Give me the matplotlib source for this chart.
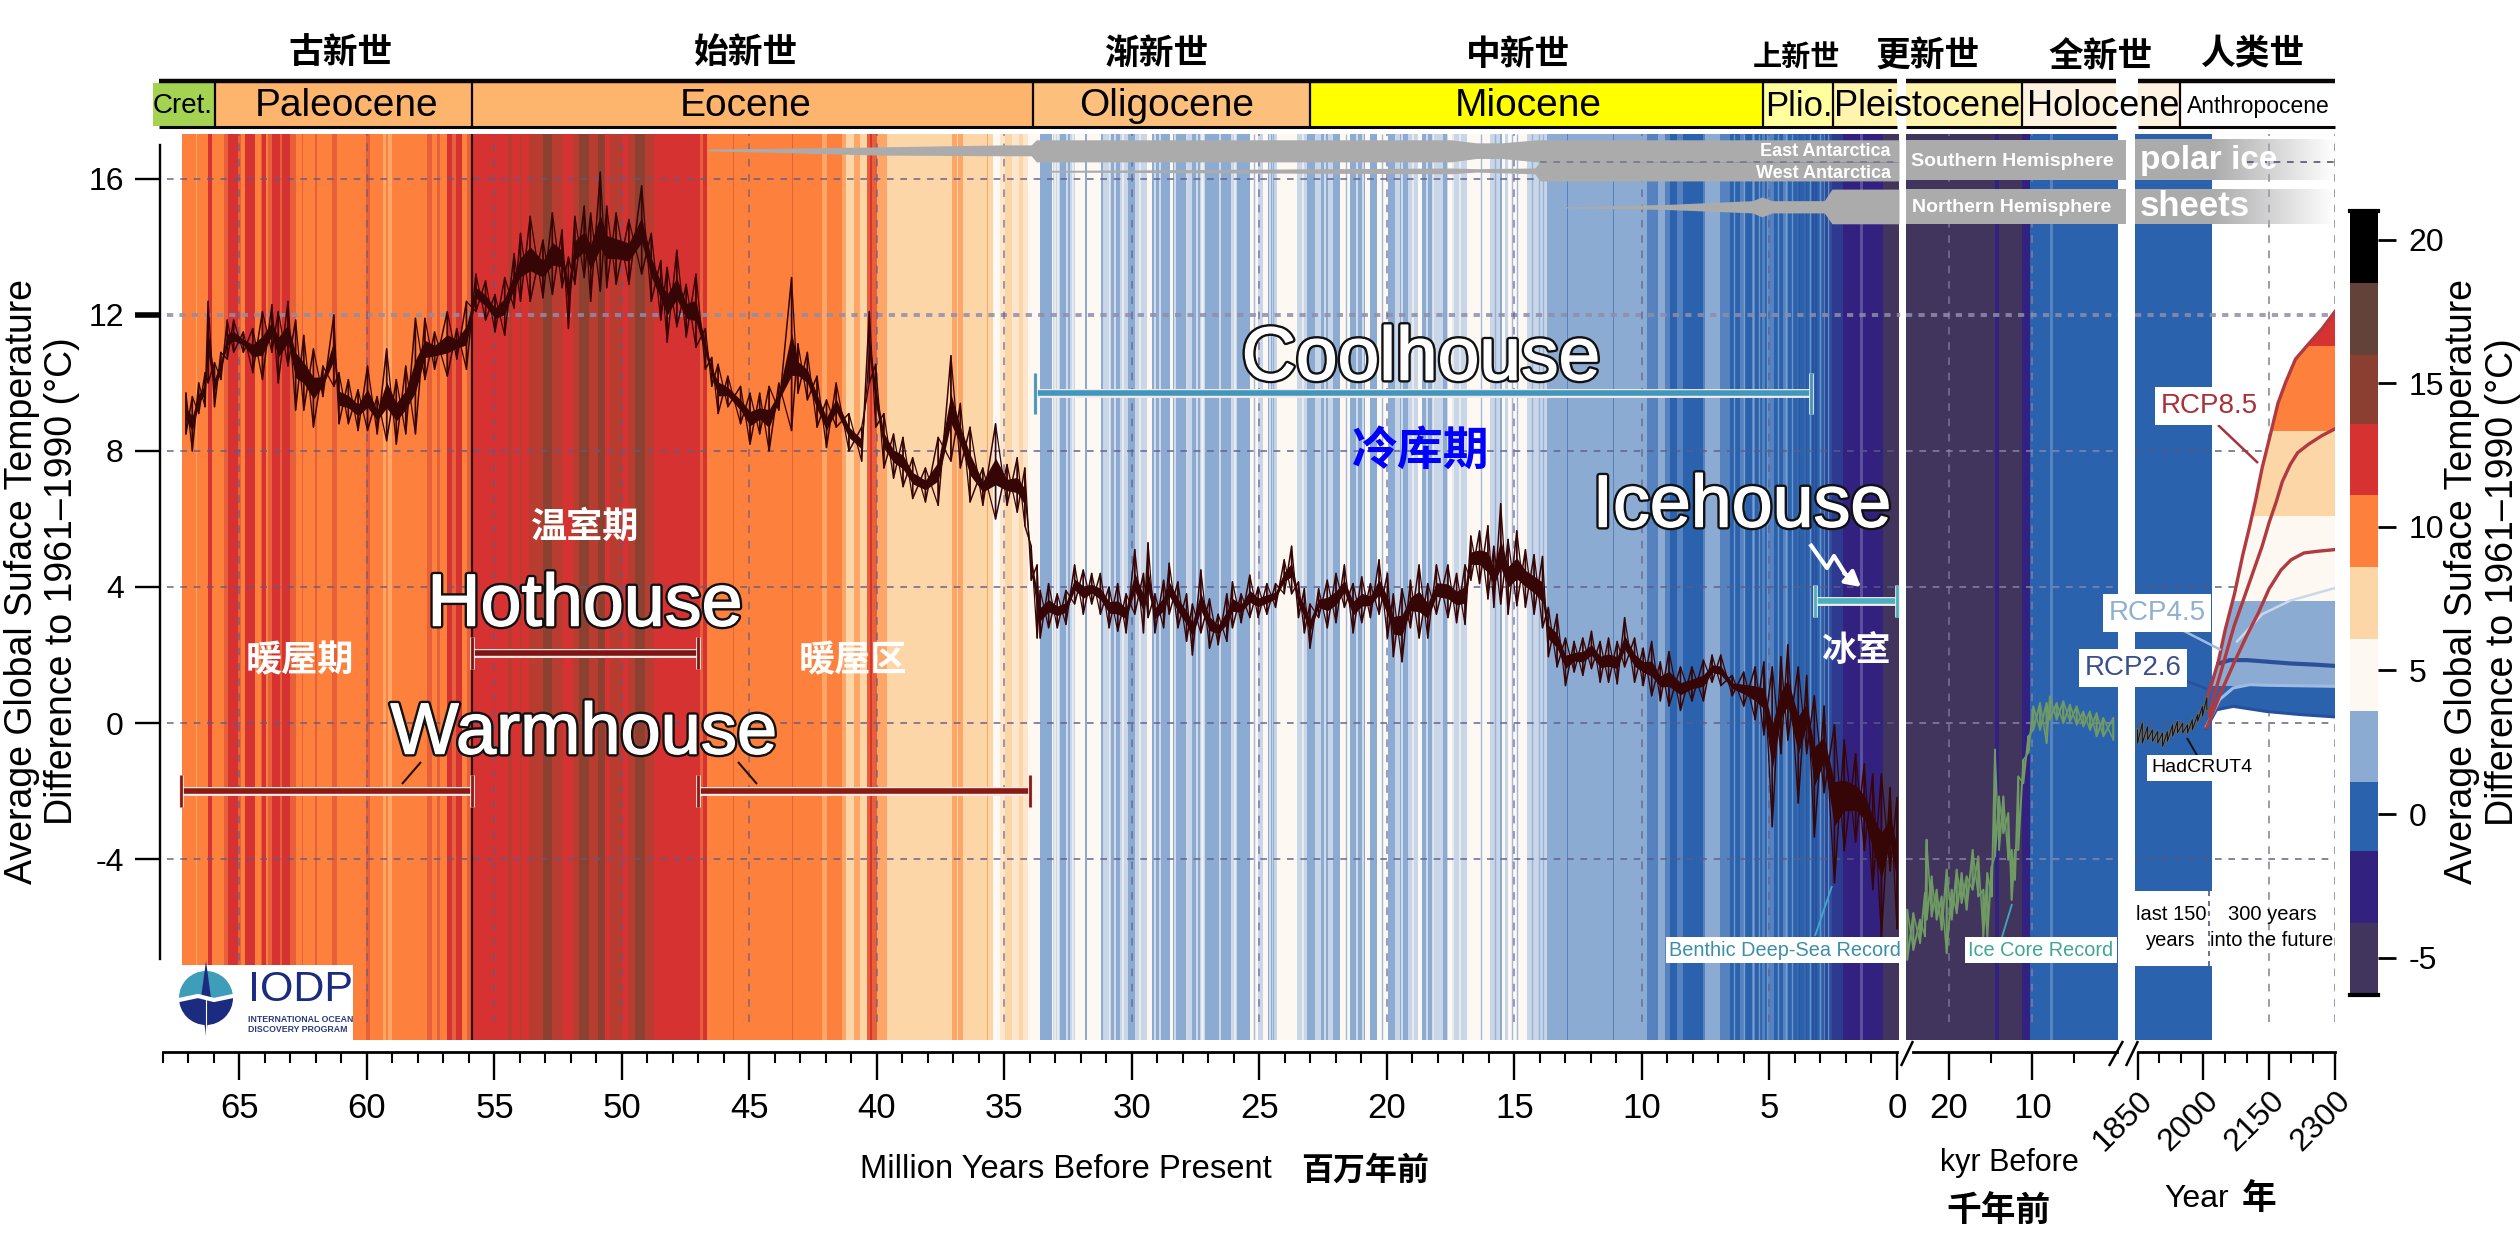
import numpy as np
import matplotlib
matplotlib.use('Agg')
import matplotlib.pyplot as plt
from matplotlib.colors import ListedColormap, BoundaryNorm
from matplotlib.cm import ScalarMappable
from matplotlib.patches import Rectangle, Wedge, Polygon
import matplotlib.patheffects as pe

plt.rcParams['font.family'] = ['Liberation Sans', 'Noto Sans CJK SC', 'DejaVu Sans']
plt.rcParams['axes.unicode_minus'] = False
CJK = ['Noto Sans CJK SC', 'DejaVu Sans']

# ---------- colour levels ----------
levels = [-6.3, -3.8, -1.3, 1.1, 3.6, 6.1, 8.6, 11.1, 13.6, 16.0, 18.5, 21.0]
level_colors = ['#41355E', '#33217F', '#2A62AE', '#8BABD3', '#FDF8F2', '#FDD6A8',
                '#FD803C', '#D73232', '#8B3F30', '#63423A', '#000000']
cbar_ticks = [-5, 0, 5, 10, 15, 20]

# ---------- climate stripes (left edge in Myr, tone code) ----------
tones = {'K': '#41355E', 'Z': '#5A50A0', 'D': '#33217F', 'Y': '#2E3A90', 'V': '#2F4C9E',
         'B': '#2A62AE', 'M': '#5683C0', 'L': '#8BABD3', 'P': '#C8D6E8', 'W': '#FDF8F2',
         'E': '#FDE6CC', 'S': '#FDD6A8', 'N': '#FDA668', 'O': '#FD803C', 'T': '#E8603A',
         'R': '#D73232', 'Q': '#B93C30', 'H': '#8B4030'}
stripe_ma_a = [67.24, 66.72, 66.67, 66.25, 66.07, 65.6, 65.44, 65.05, 64.94, 64.78, 64.39, 64.16, 64.1, 63.97,
               63.87, 63.71, 63.41, 63.32, 63.02, 62.8, 62.56, 62.5, 62.04, 61.97, 61.36, 61.19, 60.05, 59.88,
               59.36, 59.27, 59.16, 59.0, 57.66, 57.44, 57.27, 57.14, 56.88, 56.65, 56.52, 56.26, 56.09, 55.87]
stripe_code_a = "ONOROTRTOROTROTRTRTOTOTOTOTONONOTOTORTROTR"
stripe_ma_b = [54.46, 54.33, 54.0, 53.94, 53.65, 53.09, 52.76, 52.3, 51.91, 51.69, 51.3, 50.93, 50.67, 50.47,
               50.01, 49.75, 49.49, 49.1, 48.73]
stripe_code_b = "QRQRQHQRQHQHRQRQHQR"
stripe_ma_c = [46.94, 46.81, 46.65, 45.66, 45.6, 43.34, 43.28, 42.17, 41.97, 41.38, 41.21, 40.92, 40.66, 40.4,
               40.27, 40.19, 40.01, 39.62, 37.07, 36.87, 36.81, 36.64, 35.7, 35.63, 35.46, 35.17, 34.98, 34.72,
               34.45, 34.26, 34.06]
stripe_code_c = "TROTOTONONSNSTRTNSNSNSNSWESESEW"
stripe_ma_d = [33.6, 33.15, 33.08, 32.82, 32.43, 32.23, 31.84, 31.77, 31.23, 31.12, 30.86, 30.47, 30.14, 29.88,
               29.42, 29.23, 28.51, 28.38, 27.79, 27.66, 27.33, 27.13, 26.02, 25.89, 25.37, 25.04, 24.85, 24.65,
               24.52, 24.32, 23.54, 23.15, 22.82, 22.6, 22.3, 22.1, 21.84, 21.45, 20.86, 20.66, 20.38, 19.94,
               19.68, 19.49, 19.16, 18.77, 18.64, 18.18, 17.79, 17.59, 17.46, 16.87, 15.96, 15.57, 15.5, 15.37,
               15.24, 14.52, 13.74]
stripe_code_d = "LWPLPWLWLPLPLPWLWLPLPLPLWPWLPWPLPLPLWLWLWLPLPWLPLWPWPLWPWPL"
stripe_ma_e = [12.95, 12.91, 11.12, 11.08, 9.81, 9.36, 9.1, 8.9, 8.64, 8.38, 7.59, 7.53, 6.94, 6.55, 6.16, 5.96,
               5.7, 5.57, 5.31, 5.18, 5.05, 4.82, 4.46, 4.26, 3.21, 3.15, 2.95, 2.82, 2.56, 2.1, 1.45, 1.32, 0.54]
stripe_code_e = "MLMLMLMBMBMLMBMBMBMBMBMBVBMVYDZDK"
stripe_ma_end = -0.08
thin_white_ma = [33.02, 32.89, 32.56, 32.3, 30.86, 30.66, 30.34, 29.68, 29.09, 28.9, 28.31, 27.85, 27.46, 27.2,
                 27.26, 26.55, 26.09, 25.96, 24.78, 24.58, 23.28, 22.43, 21.71, 21.19, 20.93, 19.42, 18.96, 18.44,
                 18.18, 17.59, 17.4, 17.13]
thin_blue_ma = [25.2, 24.45, 21.6, 20.55, 20.2, 16.3, 15.75, 15.1, 14.9, 14.3, 14.05, 13.9]
thin_mid_ma = [6.4, 6.0, 5.65, 5.4, 5.1, 4.65, 4.35, 4.1, 3.9, 3.6, 3.4, 3.0, 2.7]
thin_dark_ma = [3.85, 3.55, 3.3, 2.9, 2.75]
stripe_ka = [25.15, 14.5, 13.97, 11.3, 10.3, 7.9, 7.6]
stripe_code_ka = "KDKDBMB"
stripe_ka_end = -0.24
stripe_yr = [1844.3]
stripe_code_yr = "B"
stripe_yr_end = 2020.0

# ---------- benthic record, read as upper and lower envelope ----------
temp_ma = [67.1, 66.85, 66.6, 66.35, 66.23, 65.98, 65.73, 65.48, 65.23, 64.85, 64.48, 64.1, 63.73, 63.48, 63.1, 62.8,
           62.48, 62.1, 61.73, 61.3, 61.1, 60.73, 60.35, 59.98, 59.6, 59.23, 58.85, 58.48, 58.1, 57.73, 57.35, 56.85,
           56.48, 56.1, 55.73, 55.35, 54.98, 54.6, 54.23, 53.98, 53.6, 53.1, 52.73, 52.35, 52.1, 51.85, 51.48, 51.23,
           50.85, 50.6, 50.23, 49.73, 49.23, 48.85, 48.48, 48.23, 47.85, 47.48, 47.1, 46.73, 46.48, 46.23, 45.85,
           45.35, 44.98, 44.6, 44.23, 43.85, 43.35, 43.1, 42.73, 42.35, 41.98, 41.6, 41.1, 40.6, 40.3, 40.05, 39.73,
           39.35, 38.98, 38.6, 38.1, 37.6, 37.1, 36.73, 36.35, 35.85, 35.35, 34.9, 34.5, 34.2, 33.95, 33.72,
           33.6, 33.27, 32.93, 32.59, 32.25, 31.91, 31.58, 31.24, 30.9, 30.56, 30.23, 29.89, 29.55, 29.37, 29.1, 28.76,
           28.54, 28.2, 27.86, 27.63, 27.3, 26.96, 26.62, 26.28, 26.06, 25.72, 25.38, 25.05, 24.71, 24.37, 24.03,
           23.74, 23.47, 23.24, 23.02, 22.68, 22.34, 22.0, 21.67, 21.33, 20.99, 20.65, 20.31, 19.98, 19.75, 19.41,
           19.08, 18.74, 18.4, 18.06, 17.61, 17.27, 16.94, 16.71, 16.37, 16.04, 15.81, 15.54, 15.25, 14.91, 14.57,
           14.23, 13.9, 13.67, 13.33, 13.0, 12.66, 12.32, 11.98, 11.64, 11.31, 10.97, 10.68, 10.29, 9.95, 9.62, 9.28,
           8.94, 8.49, 8.04, 7.59, 7.25, 6.91, 6.46, 6.01, 5.56, 5.22, 4.89, 4.55, 4.28, 3.87, 3.54, 3.24, 2.86, 2.45,
           2.07, 1.62, 1.28, 0.95, 0.61, 0.27, 0.0]
temp_hi = [9.7, 9.6, 10.0, 10.3, 12.4, 10.6, 10.9, 11.85, 11.85, 11.5, 11.6, 12.1, 12.3, 12.1, 12.4, 11.85,
           11.4, 11.0, 10.5, 12.0, 10.3, 10.1, 9.8, 10.5, 9.6, 11.0, 10.1, 10.5, 11.9, 11.9, 11.5, 12.1,
           11.6, 12.4, 13.2, 13.0, 12.6, 13.1, 13.8, 14.4, 14.9, 14.2, 15.0, 14.5, 13.7, 14.9, 15.2, 15.0,
           16.2, 15.2, 15.0, 14.8, 15.8, 14.4, 13.6, 13.4, 13.9, 12.9, 13.2, 11.6, 10.75, 10.55, 10.2,
           9.9, 9.7, 9.7, 9.9, 10.0, 13.1, 11.15, 10.9, 10.2, 9.5, 10.0, 9.1, 8.7, 12.1, 10.55, 9.1,
           8.5, 8.4, 7.8, 7.5, 8.4, 10.8, 9.4, 8.7, 7.5, 8.8, 7.6, 7.8, 7.5, 5.2, 4.65,
           3.9, 4.1, 3.8, 3.9, 4.65, 4.5, 4.4, 4.4, 4.0, 4.1, 3.8, 5.1, 4.4, 5.3, 3.8, 4.2,
           4.7, 4.15, 3.8, 3.5, 4.5, 3.65, 3.2, 3.8, 4.15, 3.8, 4.35, 4.0, 4.1, 4.1, 4.8,
           5.2, 4.15, 3.95, 3.5, 3.95, 4.2, 4.4, 4.65, 4.1, 4.3, 4.1, 4.8, 4.4, 3.8, 3.95,
           4.2, 4.65, 4.1, 4.65, 4.65, 4.4, 4.65, 5.5, 5.65, 5.8, 5.2, 6.45, 5.4, 5.65, 5.1,
           4.95, 4.9, 3.4, 3.2, 2.5, 2.4, 2.5, 2.7, 2.4, 2.5, 2.4, 3.1, 2.5, 2.2, 2.4, 1.8,
           2.1, 1.65, 1.65, 1.85, 2.0, 2.0, 1.4, 1.5, 1.65, 1.8, 1.65, 1.95, 2.3, 1.65, 1.4, 0.8, 0.5, -0.05,
           -0.5, -0.9, -1.2, -1.5, -1.5, -1.9, -2.2]
temp_lo = [8.5, 8.0, 9.1, 9.3, 10.0, 9.3, 10.1, 10.7, 10.9, 10.9, 10.3, 10.1, 10.9, 10.0, 10.5, 9.2,
           9.2, 8.7, 9.6, 9.9, 8.8, 8.8, 8.6, 8.6, 8.5, 8.3, 8.2, 8.5, 8.5, 10.1, 10.4, 10.2,
           10.7, 10.4, 12.1, 11.85, 11.5, 11.4, 12.2, 12.4, 12.4, 12.5, 12.6, 12.8, 11.6, 12.9, 13.1, 12.4,
           12.7, 12.8, 12.9, 12.9, 13.2, 12.4, 11.85, 11.2, 11.65, 11.35, 11.05, 10.4, 9.9, 9.1, 9.3,
           8.8, 8.2, 8.5, 8.0, 9.2, 8.6, 9.7, 9.5, 8.7, 8.1, 8.7, 8.0, 7.7, 10.0, 8.7, 7.5,
           7.2, 6.95, 6.6, 6.5, 6.4, 7.7, 7.5, 6.5, 6.4, 6.0, 6.4, 6.2, 5.8, 4.2, 2.5,
           2.5, 2.8, 2.8, 2.9, 3.5, 3.2, 3.5, 3.2, 2.8, 2.7, 2.65, 3.2, 2.65, 3.1, 2.65, 2.8,
           3.2, 2.8, 2.4, 2.0, 2.65, 2.2, 2.3, 2.4, 2.8, 2.95, 3.1, 3.1, 3.2, 3.4, 3.8,
           3.8, 3.1, 2.65, 2.2, 3.1, 2.8, 2.95, 3.4, 2.65, 2.95, 3.1, 3.2, 2.5, 1.95, 1.8,
           2.8, 2.5, 2.5, 3.2, 3.1, 2.95, 2.9, 4.2, 4.1, 3.65, 3.4, 3.5, 3.2, 3.45, 3.4,
           3.2, 2.8, 1.95, 1.65, 1.1, 1.5, 1.4, 1.6, 1.2, 1.2, 1.15, 1.65, 1.2, 1.1, 0.8, 0.65,
           0.5, 0.37, 0.65, 0.65, 1.2, 1.1, 0.8, 0.5, 0.1, -0.35, -3.05, -0.9, -0.5, -2.35, -0.9, -3.35, -2.05, -4.7,
           -3.75, -3.5, -3.75, -4.9, -6.3, -4.35, -6.05]

# ---------- ice core record ----------
ice_ka = [25.0, 24.27, 23.47, 22.88, 22.68, 22.08, 21.48, 20.88, 20.28, 19.68, 19.08, 18.49, 17.89, 17.17, 16.49,
          15.89, 15.41, 14.89, 14.49, 14.01, 13.49, 12.9, 12.5, 12.1, 11.7, 11.1, 10.5, 9.9, 9.1, 8.31, 7.91, 7.11,
          6.31, 5.51, 4.71, 3.91, 3.12, 2.32, 1.52, 0.32]
ice_hi = [-5.49, -5.59, -5.78, -5.0, -3.43, -4.51, -4.9, -5.1, -4.31, -4.9, -4.31, -4.41, -4.51, -3.73, -3.92,
          -4.9, -4.41, -4.22, -0.78, -2.16, -2.16, -2.65, -3.73, -3.73, -1.57, -1.08, -0.39, 0.49, 0.59, 0.59, 0.78,
          0.59, 0.64, 0.54, 0.49, 0.34, 0.34, 0.29, 0.15, 0.15]
ice_lo = [-6.96, -6.67, -6.47, -6.27, -5.78, -5.69, -5.78, -6.08, -6.77, -5.78, -5.59, -5.29, -5.49, -4.9, -5.1,
          -6.27, -6.27, -5.1, -3.92, -3.73, -3.24, -4.02, -5.2, -4.61, -3.73, -1.77, -0.88, -0.2, -0.2, -0.59, 0.1,
          0.1, 0.0, 0.05, -0.05, -0.1, -0.2, -0.39, -0.39, -0.49]

# ---------- instrumental record and projections ----------
had_yr = [1850, 1861, 1873, 1884, 1896, 1907, 1918, 1930, 1941, 1953, 1964, 1975, 1987, 1998, 2008]
had_hi = [-0.2, 0.0, -0.1, -0.2, -0.25, -0.29, -0.25, -0.05, 0.05, 0.0, -0.05, 0.1, 0.25, 0.49, 0.74]
had_lo = [-0.59, -0.59, -0.49, -0.54, -0.59, -0.69, -0.54, -0.39, -0.29, -0.29, -0.29, -0.2, 0.05, 0.2, 0.39]
rcp_yr_a = [2008, 2020, 2034, 2050, 2071, 2090, 2105, 2119, 2134, 2155, 2170, 2187, 2210, 2240, 2271, 2300]
rcp_t_a = [0.73, 1.2, 1.8, 2.75, 3.8, 4.95, 5.75, 6.55, 7.5, 8.6, 9.4, 10.0, 10.7, 11.15, 11.6, 12.1]
rcp_yr_b = [2013, 2030, 2050, 2070, 2092, 2115, 2134, 2150, 2166, 2180, 2198, 2215, 2240, 2270, 2300]
rcp_t_b = [0.23, 1.05, 1.95, 2.85, 3.65, 4.5, 5.2, 5.9, 6.5, 7.1, 7.6, 7.95, 8.2, 8.45, 8.65]
rcp_yr_c = [2008, 2040, 2071, 2100, 2124, 2150, 2177, 2200, 2229, 2260, 2300]
rcp_t_c = [-0.13, 0.9, 1.8, 2.6, 3.2, 3.95, 4.5, 4.8, 5.0, 5.05, 5.1]
low_yr = [2007, 2030, 2068, 2144, 2220, 2300]
low_t = [-0.15, 0.39, 0.49, 0.34, 0.25, 0.18]
rcp26_yr = [2035, 2060, 2100, 2150, 2200, 2250, 2300]
rcp26_t = [1.75, 1.85, 1.85, 1.8, 1.75, 1.72, 1.68]
rcp45_up_yr = [2077, 2134, 2198, 2300]
rcp45_up_t = [2.4, 3.2, 3.6, 3.97]
rcp45_lo_yr = [2007, 2037, 2068, 2106, 2144, 2300]
rcp45_lo_t = [-0.1, 0.69, 1.03, 1.13, 1.11, 1.08]

# ---------- ice sheets ----------
east_ma = [46.6, 44.0, 40.0, 35.0, 33.95, 33.75, 17.5, 16.5, 15.5, 14.1, 13.95, -0.08]
east_top = [16.88, 16.9, 16.94, 17.0, 17.0, 17.15, 17.15, 17.06, 17.06, 17.15, 17.15, 17.15]
east_bot = [16.82, 16.78, 16.7, 16.68, 16.68, 16.5, 16.5, 16.6, 16.6, 16.5, 16.5, 16.5]
west_ma = [33.3, 17.5, 16.5, 14.2, 14.0, -0.08]
west_top = [16.25, 16.32, 16.3, 16.32, 16.5, 16.5]
west_bot = [16.2, 16.15, 16.2, 16.15, 15.94, 15.94]
north_ma = [13.06, 9.0, 5.66, 5.3, 4.9, 2.85, 2.55, -0.08]
north_top = [15.18, 15.25, 15.36, 15.47, 15.36, 15.36, 15.7, 15.7]
north_bot = [15.15, 15.1, 15.0, 14.88, 15.0, 15.0, 14.68, 14.68]
south_band = [15.97, 17.15]
north_band = [14.68, 15.7]

# ---------- epochs and climate states ----------
epoch_names = ['Cret.', 'Paleocene', 'Eocene', 'Oligocene', 'Miocene', 'Plio.', 'Pleistocene', 'Holocene', 'Anthropocene']
epoch_colors = ['#A3D351', '#FDB46C', '#FDB46C', '#FDC07C', '#FFFF00', '#FFFF9E', '#FFF4AE', '#FEF2E0', '#FFFFFF']
epoch_cn = ['古新世', '始新世', '渐新世', '中新世', '上新世', '更新世', '全新世', '人类世']
epoch_edges_ma = [68.4, 65.95, 55.9, 33.9, 23.0, 5.25, 2.5, 0.0]
pleist_end_ka = 11.3
holo_end_yr = 1947
hot_range = [55.9, 47.0, 2.05]
warm_left_range = [67.3, 55.9, -2.0]
warm_right_range = [47.0, 34.0, -2.0]
cool_range = [33.8, 3.37, 9.7]
ice_range = [3.2, 0.0, 3.6]
y_ticks = [16, 12, 8, 4, 0, -4]
ma_ticks = [65, 60, 55, 50, 45, 40, 35, 30, 25, 20, 15, 10, 5, 0]
ma_minor = list(range(1, 69))
ka_ticks = [20, 10]
ka_minor = [15, 5]
yr_ticks = [1850, 2000, 2150, 2300]
yr_minor = [1900, 1950, 2050, 2100, 2200, 2250]

# ---------- layout ----------
W, H = 2520, 1256
TOP, BOT = 134, 1040
fig = plt.figure(figsize=(W / 100, H / 100), dpi=100, facecolor='white')


def panel(left, right):
    return fig.add_axes([left / W, (H - BOT) / H, (right - left) / W, (BOT - TOP) / H], facecolor='none')


ax_ma = panel(163, 1899.5)
ax_ka = panel(1906, 2118)
ax_yr = panel(2135, 2335)
ax_ma.set_xlim(68.0, -0.1)
ax_ka.set_xlim(25.15, -0.24)
ax_yr.set_xlim(1844.3, 2300)
YMIN, YMAX = -9.32, 17.32
tone_keys = list(tones)
tone_cmap = ListedColormap([tones[k] for k in tone_keys])


def stripes(ax, edges, end, codes):
    assert len(edges) == len(codes), (len(edges), len(codes))
    x = list(edges) + [end]
    c = np.array([[tone_keys.index(k) for k in codes]])
    ax.pcolormesh(x, [YMIN, YMAX], c, cmap=tone_cmap, vmin=-0.5, vmax=len(tone_keys) - 0.5, zorder=1, linewidth=0)


stripes(ax_ma, stripe_ma_a + stripe_ma_b + stripe_ma_c + stripe_ma_d + stripe_ma_e, stripe_ma_end,
        stripe_code_a + stripe_code_b + stripe_code_c + stripe_code_d + stripe_code_e)
stripes(ax_ka, stripe_ka, stripe_ka_end, stripe_code_ka)
stripes(ax_yr, stripe_yr, stripe_yr_end, stripe_code_yr)
ax_ma.vlines(thin_white_ma, YMIN, YMAX, color=tones['W'], lw=1.1, alpha=0.8, zorder=1.2)
ax_ma.vlines(thin_blue_ma, YMIN, YMAX, color=tones['L'], lw=1.0, alpha=0.8, zorder=1.2)
ax_ma.vlines(thin_mid_ma, YMIN, YMAX, color=tones['L'], lw=1.0, alpha=0.7, zorder=1.2)
ax_ma.vlines(thin_dark_ma, YMIN, YMAX, color='#234C96', lw=1.2, alpha=0.8, zorder=1.2)
ax_ma.axvline(55.87, color='#2a1010', lw=1.6, zorder=3)

# grid
GRID_Y0 = -8.79
for ax, gc, xs, xstart in ((ax_ma, '#5B5B8C', ma_ticks[:-1], 67.85), (ax_ka, '#8F8AA8', ka_ticks, None), (ax_yr, '#55557A', [2150, 2300], None)):
    x0 = xstart if xstart is not None else ax.get_xlim()[0]
    x1 = ax.get_xlim()[1]
    for t in y_ticks:
        if t == 12:
            ax.plot([x0, x1], [t, t], color='#8F8DAA', lw=2.8, alpha=0.85, ls=(0, (1.6, 1.6)), zorder=2, clip_on=False)
        elif not (t == 16 and ax is not ax_ma):
            ax.plot([x0, x1], [t, t], color=gc, lw=1.2, alpha=0.85, ls=(0, (4, 4)), zorder=2, clip_on=False)
    for x in xs:
        ax.plot([x, x], [GRID_Y0, YMAX], color=gc, lw=1.1, alpha=0.75, ls=(0, (5, 5)), zorder=2)

# ice sheets
ICE = '#ABABAB'
ax_ma.fill_between(east_ma, east_bot, east_top, color=ICE, lw=0, zorder=4)
ax_ma.fill_between(west_ma, west_bot, west_top, color=ICE, lw=0, zorder=4)
ax_ma.fill_between(north_ma, north_bot, north_top, color=ICE, lw=0, zorder=4)
ax_ma.plot([14, 0], [16.5, 16.5], color='#777788', lw=1.2, ls=(0, (4, 4)), zorder=5)
for band in (south_band, north_band):
    ax_ka.fill_between([25.15, -1.2], band[0], band[1], color=ICE, lw=0, zorder=4, clip_on=False)
    ramp = np.ones((1, 200, 4))
    ramp[..., :3] = np.array([0xAB, 0xAB, 0xAB]) / 255
    ramp[..., 3] = np.clip((2300 - np.linspace(1844.3, 2300, 200)) / 280, 0, 1)
    ax_yr.imshow(ramp, extent=[1844.3, 2300, band[0], band[1]], aspect='auto', zorder=4, origin='lower')
ax_yr.set_xlim(1844.3, 2300)
ax_yr.plot([2100, 2300], [16.5, 16.5], color='#555570', lw=1.2, ls=(0, (4, 4)), zorder=5)

# benthic record
hi, lo = np.array(temp_hi), np.array(temp_lo)
DARK = '#360505'
ma2 = np.repeat(temp_ma, 2)
ax_ma.fill_between(temp_ma, lo + 0.36 * (hi - lo), hi - 0.36 * (hi - lo), color=DARK, lw=0, zorder=6)
ax_ma.plot(ma2, np.column_stack((hi, lo)).ravel(), color=DARK, lw=1.1, zorder=6)
ax_ma.plot(ma2, np.column_stack((lo, hi)).ravel(), color=DARK, lw=0.9, zorder=6)

# ice core record
ka2 = np.repeat(ice_ka, 2)
ax_ka.plot(ka2, np.column_stack((ice_hi, ice_lo)).ravel(), color='#6F9A63', lw=1.4, zorder=6)
ax_ka.plot(ka2, np.column_stack((ice_lo, ice_hi)).ravel(), color='#6F9A63', lw=1.1, zorder=6)

# projections: horizontal colour bands clipped between the outer curves
outline = list(zip(rcp_yr_a, rcp_t_a)) + list(zip(low_yr[::-1], low_t[::-1]))
clip = Polygon(outline, closed=True, transform=ax_yr.transData, fc='none', ec='none')
ax_yr.add_patch(clip)
bands = ax_yr.pcolormesh([2000, 2300], levels, np.arange(len(level_colors)).reshape(-1, 1),
                         cmap=ListedColormap(level_colors), vmin=-0.5, vmax=len(level_colors) - 0.5, zorder=3)
bands.set_clip_path(clip)
ax_yr.plot(low_yr, low_t, color='#24509F', lw=2.2, zorder=4)
ax_yr.plot(rcp45_up_yr, rcp45_up_t, color='#C9D8EA', lw=1.8, zorder=4)
ax_yr.plot(rcp45_lo_yr, rcp45_lo_t, color='#9FBBE0', lw=2.2, zorder=4)
ax_yr.plot(rcp26_yr, rcp26_t, color='#2C4F9B', lw=3.0, zorder=5)
for xs, ys in ((rcp_yr_a, rcp_t_a), (rcp_yr_b, rcp_t_b), (rcp_yr_c, rcp_t_c)):
    ax_yr.plot(xs, ys, color='#B03A3F', lw=2.4, zorder=6)
ax_yr.plot(np.repeat(had_yr, 2), np.column_stack((had_hi, had_lo)).ravel(), color='#6A6A6A', lw=2.0, zorder=7)
ax_yr.plot(np.repeat(had_yr, 2), np.column_stack((had_hi, had_lo)).ravel(), color='#111111', lw=0.7, zorder=7)

# axes
for ax in (ax_ma, ax_ka, ax_yr):
    ax.set_ylim(YMIN, YMAX)
    for s in ('top', 'right', 'left'):
        ax.spines[s].set_visible(False)
    ax.spines['bottom'].set_position(('outward', 8.6))
    ax.spines['bottom'].set_linewidth(2.0)
    ax.tick_params(axis='x', which='major', length=20, width=1.7, labelsize=25, pad=9)
    ax.tick_params(axis='x', which='minor', length=8, width=1.5)
    ax.tick_params(axis='y', left=False, labelleft=False)

ax_ma.spines['bottom'].set_bounds(68.0, 0.0)
ax_ka.spines['bottom'].set_bounds(24.3, -0.1)
ax_yr.spines['bottom'].set_bounds(1850, 2300)
ax_ma.set_xticks(ma_ticks)
ax_ma.set_xticks(ma_minor, minor=True)
ax_ka.set_xticks(ka_ticks)
ax_ka.set_xticks(ka_minor, minor=True)
ax_yr.set_xticks(yr_ticks)
ax_yr.set_xticks(yr_minor, minor=True)
ax_yr.set_xticklabels([str(y) for y in yr_ticks], rotation=45, ha='right', rotation_mode='anchor', fontsize=23)
ax_yr.tick_params(axis='x', which='major', pad=4)

ax_ma.spines['left'].set_visible(True)
ax_ma.spines['left'].set_position(('outward', 2.2))
ax_ma.spines['left'].set_bounds(-6.94, 17.0)
ax_ma.spines['left'].set_linewidth(1.7)
ax_ma.set_yticks(y_ticks)
ax_ma.tick_params(axis='y', left=True, labelleft=True, length=18, width=1.7, labelsize=23, pad=8)
for tick, t in zip(ax_ma.yaxis.get_major_ticks(), y_ticks):
    if t == 12:
        tick.tick1line.set_markeredgewidth(4)

# geologic time bar
BAR_TOP, BAR_BOT = (BOT - 83) / (BOT - TOP), (BOT - 126) / (BOT - TOP)
LINE_TOP, LINE_BOT = (BOT - 81) / (BOT - TOP), (BOT - 127) / (BOT - TOP)


def epoch(ax, x0, x1, name):
    color = epoch_colors[epoch_names.index(name)]
    ax.add_patch(Rectangle((x0, BAR_BOT), x1 - x0, BAR_TOP - BAR_BOT, transform=ax.get_xaxis_transform(),
                           fc=color, ec='none', clip_on=False, zorder=1))


e = epoch_edges_ma
for i, name in enumerate(epoch_names[:7]):
    epoch(ax_ma, e[i], e[i + 1], name)
epoch(ax_ka, 25.15, pleist_end_ka, 'Pleistocene')
epoch(ax_ka, pleist_end_ka, 0.0, 'Holocene')
epoch(ax_yr, 1850, holo_end_yr, 'Holocene')
epoch(ax_yr, holo_end_yr, 2300, 'Anthropocene')
for ax, x0, x1 in ((ax_ma, 68.16, 0.0), (ax_ka, 25.15, 0.0), (ax_yr, 1850, 2300)):
    tr = ax.get_xaxis_transform()
    ax.plot([x0, x1], [LINE_TOP, LINE_TOP], color='#0A0505', lw=3.2, transform=tr, clip_on=False, zorder=2, solid_capstyle='butt')
    ax.plot([x0, x1], [LINE_BOT, LINE_BOT], color='#0A0505', lw=2.2, transform=tr, clip_on=False, zorder=2, solid_capstyle='butt')
for ax, xs in ((ax_ma, e[1:-1]), (ax_ka, [pleist_end_ka]), (ax_yr, [holo_end_yr])):
    tr = ax.get_xaxis_transform()
    for x in xs:
        ax.plot([x, x], [LINE_BOT, LINE_TOP], color='#0A0505', lw=1.6, transform=tr, clip_on=False, zorder=2)

# climate state range bars
DR, TL = '#7E1414', '#3F97BD'


def range_bar(ax, rng, color, cap=0.47, lw=4.0):
    stroke = [pe.withStroke(linewidth=lw + 2.4, foreground='#F4E9E6')]
    ax.plot(rng[:2], [rng[2], rng[2]], color=color, lw=lw, zorder=7, path_effects=stroke, solid_capstyle='butt')
    for x in rng[:2]:
        ax.plot([x, x], [rng[2] - cap, rng[2] + cap], color=color, lw=2.0, zorder=7,
                path_effects=[pe.withStroke(linewidth=3.4, foreground='#F4E9E6')], solid_capstyle='butt')


range_bar(ax_ma, warm_left_range, '#8A1A14')
range_bar(ax_ma, warm_right_range, '#8A1A14')
range_bar(ax_ma, hot_range, DR)
range_bar(ax_ma, cool_range, TL, cap=0.6)
range_bar(ax_ma, ice_range, '#48B0BE', cap=0.47)

# colour bar
cax = fig.add_axes([2350 / W, (H - 995) / H, 28 / W, 784 / H])
norm = BoundaryNorm(levels, len(level_colors))
cb = fig.colorbar(ScalarMappable(norm=norm, cmap=ListedColormap(level_colors)), cax=cax, spacing='proportional', ticks=cbar_ticks)
cb.outline.set_visible(False)
cax.minorticks_off()
cax.tick_params(axis='y', which='major', length=13, width=2.0, labelsize=23, pad=9)
cax.plot([0, 1], [0, 0], color='k', lw=3, transform=cax.transAxes, clip_on=False)
cax.plot([0, 1], [1, 1], color='k', lw=3, transform=cax.transAxes, clip_on=False)

# overlay in pixel units for annotations
ov = fig.add_axes([0, 0, 1, 1], facecolor='none', zorder=10)
ov.set_xlim(0, W)
ov.set_ylim(H, 0)
ov.axis('off')


def T(x, y, s, size, color='k', ha='center', va='center', **kw):
    return ov.text(x, y, s, fontsize=size, color=color, ha=ha, va=va, **kw)


def CN(x, y, s, size, color='k'):
    return T(x, y, s, size, color=color, family=CJK, fontweight='bold')


def L(xs, ys, color='k', lw=1.5):
    return ov.plot(xs, ys, color=color, lw=lw, solid_capstyle='butt')[0]


# epoch headings
for x, y, s, size in zip([341, 745, 1156, 1518, 1796, 1928, 2101, 2252], [53, 53, 53, 55, 57, 56, 56, 53], epoch_cn,
                         [25, 25, 25, 25, 21, 25, 25, 25]):
    CN(x, y, s, size)
for x, s, size in zip([183, 347, 746, 1167, 1528, 1799, 1927, 2103, 2258], epoch_names, [20, 28, 28, 28, 28, 25, 26, 26, 16.5]):
    T(x, 106, s, size)

# ice sheet labels
T(1891, 152, 'East Antarctica', 13, color='white', ha='right', fontweight='bold')
T(1891, 173, 'West Antarctica', 13, color='white', ha='right', fontweight='bold')
T(2012, 162, 'Southern Hemisphere', 14, color='white', fontweight='bold')
T(2012, 207, 'Northern Hemisphere', 14, color='white', fontweight='bold')
T(2140, 161, 'polar ice', 24, color='white', ha='left', fontweight='bold')
T(2140, 206, 'sheets', 25, color='white', ha='left', fontweight='bold')

# climate state labels
outline_fx = [pe.withStroke(linewidth=4.4, foreground='#111111'), pe.withStroke(linewidth=1.0, foreground='white')]
for x, y, s, size in ((1421, 360, 'Coolhouse', 54), (585, 606, 'Hothouse', 53), (584, 735, 'Warmhouse', 52), (1742, 507, 'Icehouse', 53)):
    T(x, y, s, size, color='white', path_effects=outline_fx)
for x, y, s, size in ((585, 527, '温室期', 26), (300, 661, '暖屋期', 26), (853, 661, '暖屋区', 26), (1857, 650, '冰室', 25)):
    CN(x, y, s, size, color='white')
CN(1421, 452, '冷库期', 33, color='#0000FF')
L([421, 402], [762, 784], color='#221111')
L([738, 757], [762, 784], color='#221111')
ov.annotate('', xy=(1861, 587), xytext=(1844, 573), arrowprops=dict(arrowstyle='-|>,head_width=0.5,head_length=0.9', color='white', lw=3.0, shrinkA=0, shrinkB=0))
L([1810, 1827, 1834, 1846], [544, 568, 556, 575], color='white', lw=3.0)

# record labels
BOX = dict(fc='white', ec='none', pad=2.5)
T(1785, 950, 'Benthic Deep-Sea Record', 14.3, color='#3A8FA8', bbox=BOX)
L([1832, 1815], [886, 936], color='#3FA8D0', lw=1.3)
T(2041, 950, 'Ice Core Record', 14.3, color='#3FA595', bbox=BOX)
L([2012, 2002], [904, 937], color='#3FA8C0', lw=1.3)
ov.add_patch(Rectangle((2135, 891), 80, 75, fc='white', ec='none'))
L([2209, 2209], [891, 966], color='#55557A', lw=1.2).set_linestyle((0, (3, 3)))
T(2171, 914, 'last 150', 14.5)
T(2171, 941, 'years', 14.5)
T(2272, 914, '300 years', 14.5)
T(2272, 941, 'into the future', 14.5)
T(2209, 406, 'RCP8.5', 20, color='#A83238', bbox=dict(fc='white', ec='none', pad=4))
L([2218, 2258], [425, 463], color='#A83238', lw=1.8)
T(2157, 613, 'RCP4.5', 20, color='#8FB0CF', bbox=dict(fc='white', ec='none', pad=4))
L([2184, 2221], [631, 650], color='#9FBBE0', lw=1.8)
T(2133, 668, 'RCP2.6', 20, color='#3A4F8C', bbox=dict(fc='white', ec='none', pad=4))
L([2184, 2207], [680, 689], color='#2C4F9B', lw=1.8)
T(2202, 768, 'HadCRUT4', 14, bbox=dict(fc='white', ec='none', pad=3))
L([2187, 2198], [738, 757], color='#111111', lw=1.4)

# axis labels
T(22, 581, 'Average Global Suface Temperature', 27, rotation=90)
T(62, 581, 'Difference to 1961\u20131990 (\u00b0C)', 27, rotation=90)
T(2462, 582, 'Average Global Suface Temperature', 27, rotation=90)
T(2503, 582, 'Difference to 1961\u20131990 (\u00b0C)', 27, rotation=90)
T(1066, 1170, 'Million Years Before Present', 23.6)
CN(1365, 1171, '百万年前', 23)
T(2009, 1163, 'kyr Before', 22)
CN(1999, 1211, '千年前', 25)
T(2197, 1199, 'Year', 23)
CN(2259, 1199, '年', 25)

# axis break marks
for x0, x1 in ((1901, 1913), (2109, 2123), (2126, 2138)):
    L([x0, x1], [1066, 1041], color='k', lw=1.8)

# IODP logo
ov.add_patch(Rectangle((160, 965), 193, 75, fc='white', ec='none'))
cx, cy, r = 206, 998, 27
ov.add_patch(Wedge((cx, cy), r, 180, 360, fc='#3E9DB8', ec='none'))
ov.add_patch(Wedge((cx, cy), r, 0, 180, fc='#1B2C80', ec='none'))
ov.plot([cx - r, cx - 8, cx + 8, cx + r], [cy + 2, cy - 2, cy + 2, cy - 2], color='white', lw=3)
ov.add_patch(Polygon([(cx, 961), (cx + 5, cy), (cx, 1036), (cx - 5, cy)], fc='#1B2C80', ec='none'))
ov.plot([cx, cx], [cy, 1036], color='white', lw=0.8)
T(248, 990, 'IODP', 31, color='#1B2C80', ha='left')
T(248, 1019, 'INTERNATIONAL OCEAN', 6.3, color='#2A3A80', ha='left', fontweight='bold')
T(248, 1030, 'DISCOVERY PROGRAM', 6.3, color='#2A3A80', ha='left', fontweight='bold')

fig.savefig('out.png', dpi=100)
